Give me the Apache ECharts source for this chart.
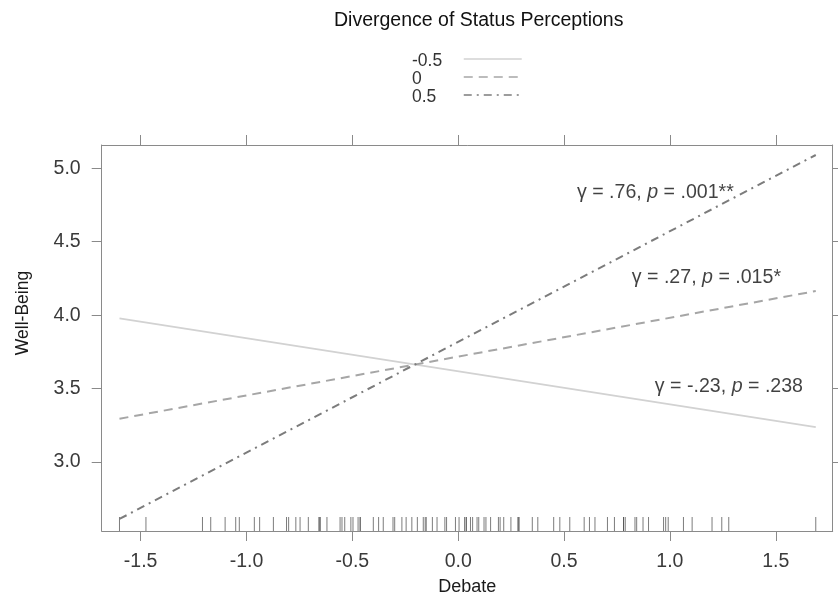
<!DOCTYPE html>
<html>
<head>
<meta charset="utf-8">
<script src="https://cdn.jsdelivr.net/npm/echarts@6/dist/echarts.min.js"></script>
<style>
  html, body { margin: 0; padding: 0; background: #fff; }
  #main { width: 838px; height: 601px; }
</style>
</head>
<body>
<div id="main"></div>
<script>
var chartDom = document.getElementById('main');
var myChart = echarts.init(chartDom);

// groups of the moderator (divergence of status perceptions)
var groups = ['-0.5', '0', '0.5'];
// x end points of the fitted lines (Debate)
var lineX = [-1.6, 1.689];
// well-being at the two ends, one array per group
var wbLow = [3.978, 3.238];
var wbMid = [3.295, 4.164];
var wbHigh = [2.613, 5.09];

// observed Debate values (rug along the bottom)
var rugX = [-1.6, -1.475, -1.208, -1.169, -1.101, -1.051, -1.034, -0.963, -0.938, -0.873,
    -0.811, -0.801, -0.767, -0.747, -0.708, -0.657, -0.657, -0.651, -0.62, -0.558, -0.549,
    -0.536, -0.507, -0.497, -0.473, -0.463, -0.463, -0.401, -0.376, -0.354, -0.308, -0.3,
    -0.266, -0.246, -0.219, -0.193, -0.165, -0.156, -0.151, -0.122, -0.1, -0.063, -0.055,
    -0.013, 0.004, 0.03, 0.038, 0.038, 0.058, 0.068, 0.089, 0.097, 0.122, 0.131, 0.153,
    0.19, 0.198, 0.215, 0.249, 0.283, 0.283, 0.288, 0.35, 0.376, 0.451, 0.48, 0.527, 0.595,
    0.62, 0.646, 0.705, 0.738, 0.781, 0.781, 0.789, 0.835, 0.843, 0.873, 0.899, 0.97, 0.98,
    0.992, 1.064, 1.105, 1.199, 1.245, 1.278, 1.689];

var xTicks = [-1.5, -1.0, -0.5, 0.0, 0.5, 1.0, 1.5];
var yTicks = [3.0, 3.5, 4.0, 4.5, 5.0];

// slope annotations: [x, y, gamma, p]
var notes = [
    [0.561, 4.832, '.76', '.001**'],
    [0.82, 4.255, '.27', '.015*'],
    [0.929, 3.515, '-.23', '.238']
];

var xMin = -1.684, xMax = 1.769;
var yMin = 2.531, yMax = 5.158;

var axisGray = '#8a8a8a';
var fontFam = 'Liberation Sans, Arial, sans-serif';

function toPairs(ys) {
    return lineX.map(function (x, i) { return [x, ys[i]]; });
}

var styles = [
    { color: '#d2d2d2', type: 'solid' },
    { color: '#a6a6a6', type: [9, 6] },
    { color: '#7c7c7c', type: [8, 5, 2, 5] }
];
var values = [wbLow, wbMid, wbHigh];

var series = groups.map(function (g, i) {
    return {
        name: g, type: 'line', symbol: 'none', silent: true,
        data: toPairs(values[i]),
        lineStyle: { color: styles[i].color, width: 2, type: styles[i].type },
        itemStyle: { color: styles[i].color },
        z: 3
    };
});

series.push({
    name: 'rug', type: 'scatter', silent: true,
    symbol: 'rect', symbolSize: [1, 14], symbolOffset: [0, -7],
    itemStyle: { color: '#444', opacity: 0.7 },
    data: rugX.map(function (x) { return [x, yMin]; }),
    z: 2
});

series.push({
    name: 'notes', type: 'scatter', silent: true, symbolSize: 0,
    data: notes.map(function (n) { return { value: [n[0], n[1]], g: n[2], p: n[3] }; }),
    label: {
        show: true, position: 'right', distance: 0,
        formatter: function (params) {
            return '{n|\u03b3 = ' + params.data.g + ', }{i|p}{n| = ' + params.data.p + '}';
        },
        rich: {
            n: { fontSize: 19.6, fontFamily: fontFam, color: '#111' },
            i: { fontSize: 19.6, fontFamily: fontFam, color: '#111', fontStyle: 'italic' }
        }
    },
    z: 4
});

function makeAxis(extra) {
    var base = {
        type: 'value',
        axisLine: { show: true, onZero: false, lineStyle: { color: axisGray, width: 1 } },
        axisTick: { show: true, inside: false, length: 10, lineStyle: { color: axisGray } },
        splitLine: { show: false }
    };
    return Object.assign(base, extra);
}

var option = {
    animation: false,
    backgroundColor: '#fff',
    title: {
        text: 'Divergence of Status Perceptions',
        left: 334, top: 11, padding: 0,
        textStyle: { fontSize: 19.5, fontWeight: 'normal', fontFamily: fontFam, color: '#111' }
    },
    legend: [
        {
            // line samples
            data: groups,
            orient: 'vertical', left: 463, top: 50, padding: 0,
            itemGap: 0, itemWidth: 58, itemHeight: 14,
            formatter: function () { return ' '; },
            itemStyle: { opacity: 0 },
            lineStyle: { width: 1.5 },
            textStyle: { fontSize: 17.5, lineHeight: 17.5, fontFamily: fontFam }
        },
        {
            // group labels
            data: groups.map(function (g) { return { name: g, icon: 'rect' }; }),
            orient: 'vertical', left: 407, top: 52, padding: 0,
            itemGap: 0, itemWidth: 0, itemHeight: 17.5,
            itemStyle: { opacity: 0 },
            lineStyle: { opacity: 0 },
            textStyle: { fontSize: 17.5, lineHeight: 17.5, fontFamily: fontFam, color: '#333' }
        }
    ],
    grid: { left: 101.7, right: 5.3, top: 145, bottom: 69.3, containLabel: false },
    xAxis: [
        makeAxis({
            min: xMin, max: xMax, position: 'bottom',
            name: 'Debate', nameLocation: 'middle', nameGap: 47,
            nameTextStyle: { fontSize: 18, fontFamily: fontFam, color: '#1a1a1a' },
            axisTick: { show: true, length: 10, lineStyle: { color: axisGray }, customValues: xTicks },
            axisLabel: {
                customValues: xTicks, margin: 21, fontSize: 19.5, fontFamily: fontFam, color: '#3a3a3a',
                formatter: function (v) { return v.toFixed(1); }
            }
        }),
        makeAxis({
            min: xMin, max: xMax, position: 'top',
            axisTick: { show: true, length: 10, lineStyle: { color: axisGray }, customValues: xTicks },
            axisLabel: { show: false }
        })
    ],
    yAxis: [
        makeAxis({
            min: yMin, max: yMax, position: 'left',
            name: 'Well-Being', nameLocation: 'middle', nameGap: 70,
            nameTextStyle: { fontSize: 17.5, fontFamily: fontFam, color: '#1a1a1a', padding: [0, 0, 0, 50] },
            axisTick: { show: true, length: 10, lineStyle: { color: axisGray }, customValues: yTicks },
            axisLabel: {
                customValues: yTicks, margin: 21, fontSize: 19.5, fontFamily: fontFam, color: '#3a3a3a',
                formatter: function (v) { return v.toFixed(1); }
            }
        }),
        makeAxis({
            min: yMin, max: yMax, position: 'right',
            axisTick: { show: true, length: 10, lineStyle: { color: axisGray }, customValues: yTicks },
            axisLabel: { show: false }
        })
    ],
    series: series
};

option && myChart.setOption(option);
</script>
</body>
</html>
